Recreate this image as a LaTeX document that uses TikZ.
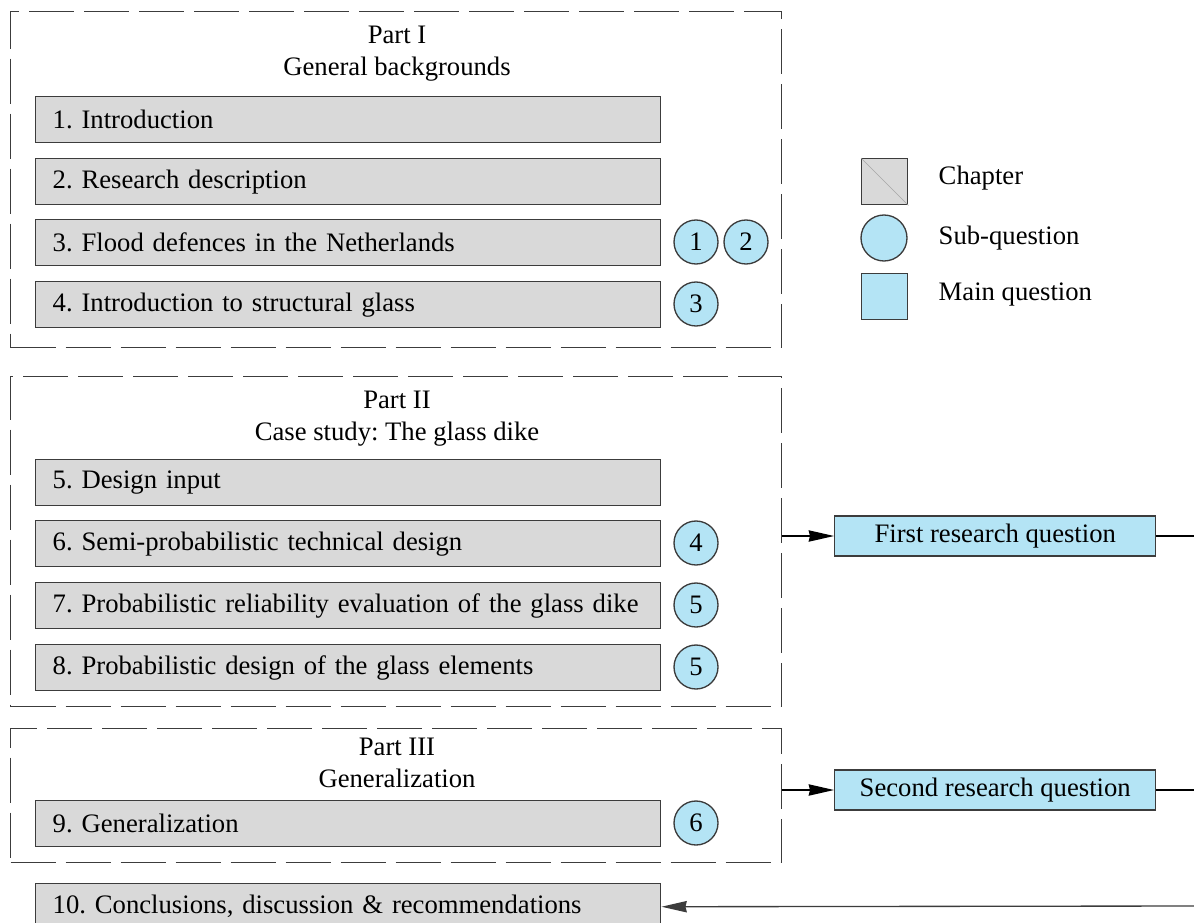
\documentclass[tikz,border=0pt]{standalone}
\usepackage{fontspec}
\setmainfont{Liberation Serif}
\usetikzlibrary{arrows.meta}
\frenchspacing

\definecolor{chapgray}{RGB}{217,217,217}
\definecolor{qblue}{RGB}{180,228,245}
\definecolor{edgegray}{RGB}{60,60,60}

\begin{document}
\begin{tikzpicture}[x=0.75pt,y=0.75pt,yscale=-1,xscale=1,
    every node/.style={font=\fontsize{20}{24}\selectfont},
    chapbox/.style={draw=edgegray, line width=1.1pt, fill=chapgray, anchor=north west,
      minimum width=468.75pt, minimum height=34.5pt, inner xsep=12.75pt, text width=443.25pt, align=left},
    subq/.style={draw=edgegray, line width=1pt, fill=qblue, circle, minimum size=33pt, inner sep=0pt},
    mainq/.style={draw=edgegray, line width=1.1pt, fill=qblue, minimum width=240.75pt, minimum height=30pt, anchor=west},
    partbox/.style={draw=edgegray, line width=0.9pt, dash pattern=on 33.75pt off 7.5pt, anchor=north west,
      minimum width=578.25pt, inner sep=0pt},
    legtext/.style={anchor=west},
    link/.style={line width=1pt, -{Stealth[length=19pt,width=8.5pt,inset=1pt]}}]
        \useasboundingbox (0,0) rectangle (1194,923);
        \clip (0,0) rectangle (1194,923);

        % Part I
        \node [partbox, minimum height=252pt] (part1) at (10,11) {};
        \node [align=center] (title1) at (397,54) {Part I\\General backgrounds};
        \node [chapbox] (c1) at (35,96) {1. Introduction};
        \node [chapbox] (c2) at (35,158) {2. Research description};
        \node [chapbox] (c3) at (35,219) {3. Flood defences in the Netherlands};
        \node [chapbox] (c4) at (35,281) {4. Introduction to structural glass};
        \node [subq] (s1) at (696,242) {1};
        \node [subq] (s2) at (746,242) {2};
        \node [subq] (s3) at (696,304) {3};

        % Part II
        \node [partbox, minimum height=247.5pt] (part2) at (10,376) {};
        \node [align=center] (title2) at (397,418.5) {Part II\\Case study: The glass dike};
        \node [chapbox] (c5) at (35,459) {5. Design input};
        \node [chapbox] (c6) at (35,520) {6. Semi-probabilistic technical design};
        \node [chapbox] (c7) at (35,582) {7. Probabilistic reliability evaluation of the glass dike};
        \node [chapbox] (c8) at (35,644) {8. Probabilistic design of the glass elements};
        \node [subq] (s4) at (696,543) {4};
        \node [subq] (s5a) at (696,605) {5};
        \node [subq] (s5b) at (696,667) {5};

        % Part III
        \node [partbox, minimum height=100.5pt] (part3) at (10,728) {};
        \node [align=center] (title3) at (397,762.5) {Part III\\Generalization};
        \node [chapbox] (c9) at (35,800) {9. Generalization};
        \node [subq] (s6) at (696,823) {6};

        \node [chapbox] (c10) at (35,883) {10. Conclusions, discussion \& recommendations};

        % Main questions
        \node [mainq] (q1) at (834,536) {First research question};
        \node [mainq] (q2) at (834,790) {Second research question};
        \coordinate (out1) at (1194,536);
        \coordinate (out2) at (1194,790);
        \coordinate (back) at (1194,906);

        \draw [link] (part2.east |- q1.west) -- (q1.west);
        \draw [link] (part3.east |- q2.west) -- (q2.west);
        \draw [line width=1pt] (q1.east) -- (out1);
        \draw [line width=1pt] (q2.east) -- (out2);
        \draw [link, draw=edgegray] (back) -- (c10.east);

        % Legend
        \node [draw=edgegray, line width=1.1pt, fill=chapgray, minimum size=34.5pt, anchor=north west] (lchap) at (861,158) {};
        \draw [gray!70, line width=0.4pt] (lchap.north west) -- (lchap.south east);
        \node [legtext] (lchaptext) at (934,178) {Chapter};
        \node [subq, minimum size=34.5pt] (lsub) at (884,238) {};
        \node [legtext] (lsubtext) at (934,238) {Sub-question};
        \node [draw=edgegray, line width=1.1pt, fill=qblue, minimum size=34.5pt, anchor=north west] (lmain) at (861,273) {};
        \node [legtext] (lmaintext) at (934,295) {Main question};

    \end{tikzpicture}
\end{document}
